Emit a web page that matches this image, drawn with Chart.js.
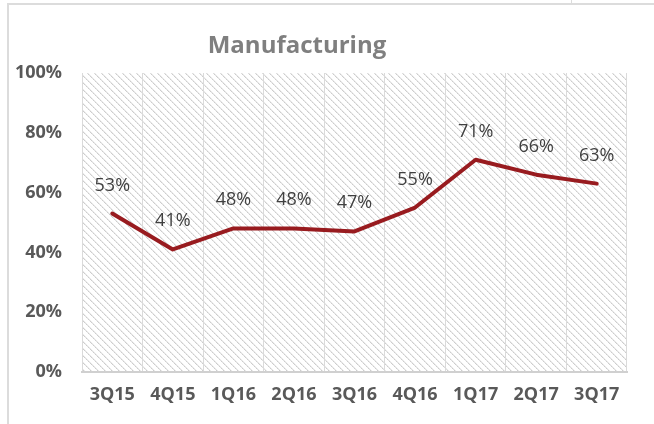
<!DOCTYPE html>
<html>
<head>
<meta charset="utf-8">
<script src="https://cdn.jsdelivr.net/npm/chart.js@4/dist/chart.umd.min.js"></script>
<style>
  html, body { margin: 0; padding: 0; background: #fff; }
  #wrap { position: relative; width: 654px; height: 424px; overflow: hidden; }
  #chart { position: absolute; left: 0; top: 0; }
  .frame-top { position: absolute; left: 7px; top: 3px; width: 647px; height: 2px; background: #dcdcdc; }
  .frame-left { position: absolute; left: 7px; top: 3px; width: 2px; height: 421px; background: #dcdcdc; }
  .frame-tick { position: absolute; left: 571px; top: 0; width: 1px; height: 4px; background: #dcdcdc; }
</style>
</head>
<body>
<div id="wrap">
  <div class="frame-top"></div>
  <div class="frame-left"></div>
  <div class="frame-tick"></div>
  <canvas id="chart" width="654" height="424"></canvas>
</div>
<script>
'use strict';

const TITLE = 'Manufacturing';
const QUARTERS = ['3Q15', '4Q15', '1Q16', '2Q16', '3Q16', '4Q16', '1Q17', '2Q17', '3Q17'];
const SHARE = [53, 41, 48, 48, 47, 55, 71, 66, 63];
const Y_TICKS = [0, 20, 40, 60, 80, 100];

const LINE_COLOR = '#981b1f';
const FONT = '"Open Sans", "Liberation Sans", sans-serif';

// dotted "\" hatch like the excel pattern fill
function makeHatch() {
  const n = 7;
  const tile = document.createElement('canvas');
  tile.width = n;
  tile.height = n;
  const t = tile.getContext('2d');
  t.fillStyle = '#ffffff';
  t.fillRect(0, 0, n, n);
  for (let i = 0; i < n; i++) {
    t.fillStyle = i % 2 ? '#dedede' : '#cdcdcd';
    t.fillRect(i, i, 1, 1);
    t.fillStyle = '#ebebeb';
    t.fillRect((i + 1) % n, i, 1, 1);
  }
  return tile;
}

const hatchPlugin = {
  id: 'hatch',
  beforeDraw(chart) {
    const { ctx, chartArea: a } = chart;
    ctx.save();
    ctx.fillStyle = ctx.createPattern(makeHatch(), 'repeat');
    ctx.fillRect(a.left, a.top, a.right - a.left, a.bottom - a.top);
    ctx.restore();
  },
};

const labelPlugin = {
  id: 'pointLabels',
  afterDatasetsDraw(chart) {
    const { ctx } = chart;
    const meta = chart.getDatasetMeta(0);
    ctx.save();
    ctx.font = '18px ' + FONT;
    ctx.fillStyle = '#404040';
    ctx.textAlign = 'center';
    ctx.textBaseline = 'alphabetic';
    meta.data.forEach((pt, i) => {
      ctx.fillText(SHARE[i] + '%', pt.x, pt.y - 23);
    });
    ctx.restore();
  },
};

const titlePlugin = {
  id: 'sideTitle',
  afterDraw(chart) {
    const { ctx } = chart;
    ctx.save();
    ctx.font = 'bold 24px ' + FONT;
    ctx.fillStyle = '#7f7f7f';
    ctx.textAlign = 'center';
    ctx.textBaseline = 'alphabetic';
    ctx.fillText(TITLE, 297, 53);
    ctx.restore();
  },
};

new Chart(document.getElementById('chart'), {
  type: 'line',
  data: {
    labels: QUARTERS,
    datasets: [{
      data: SHARE,
      borderColor: LINE_COLOR,
      borderWidth: 4,
      borderJoinStyle: 'round',
      borderCapStyle: 'round',
      pointRadius: 0,
      tension: 0,
      fill: false,
    }],
  },
  options: {
    responsive: false,
    animation: false,
    layout: { padding: { top: 73, right: 27, bottom: 0, left: 0 } },
    plugins: {
      legend: { display: false },
      tooltip: { enabled: false },
    },
    scales: {
      x: {
        offset: true,
        grid: { offset: true, color: '#dadada', lineWidth: 1, drawTicks: false },
        border: { display: true, color: '#d0d0d0', width: 2 },
        ticks: {
          padding: 12,
          color: '#595959',
          font: { family: FONT, size: 18, weight: 'bold' },
          maxRotation: 0,
        },
        afterFit(scale) { scale.height = 52; },
      },
      y: {
        min: 0,
        max: 100,
        grid: { display: false, drawTicks: false },
        border: { display: false },
        afterBuildTicks(scale) { scale.ticks = Y_TICKS.map(v => ({ value: v })); },
        ticks: {
          padding: 20,
          color: '#595959',
          font: { family: FONT, size: 18, weight: 'bold' },
          callback: v => v + '%',
        },
        afterFit(scale) { scale.width = 82; },
      },
    },
  },
  plugins: [hatchPlugin, labelPlugin, titlePlugin],
});
</script>
</body>
</html>
